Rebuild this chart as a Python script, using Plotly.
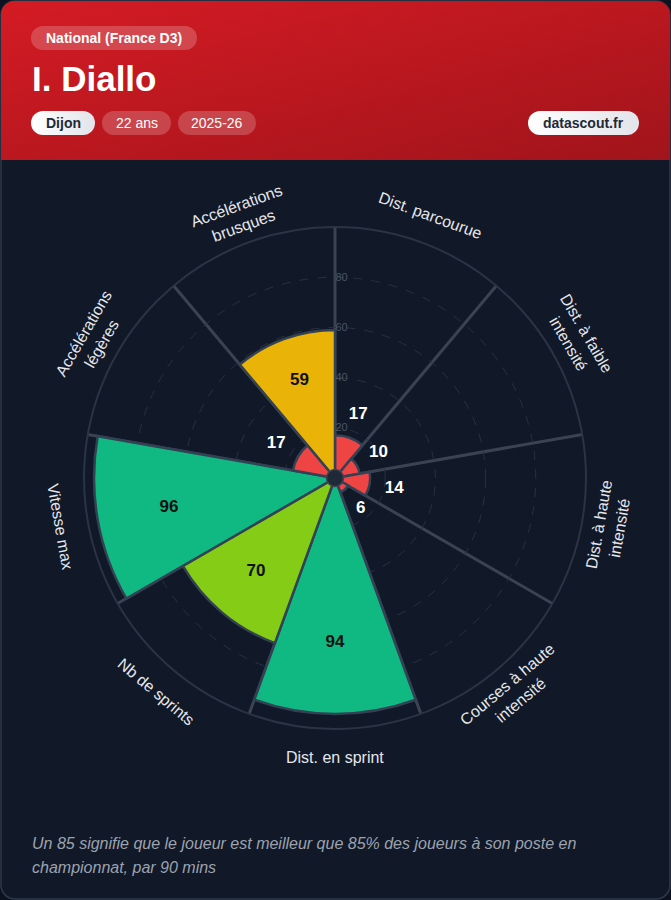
import base64
import math
import plotly.graph_objects as go

# ---------------- data ----------------
categories = [
    "Dist. parcourue",
    "Dist. à faible<br>intensité",
    "Dist. à haute<br>intensité",
    "Courses à haute<br>intensité",
    "Dist. en sprint",
    "Nb de sprints",
    "Vitesse max",
    "Accélérations<br>légères",
    "Accélérations<br>brusques",
]
percentiles = [17, 10, 14, 6, 94, 70, 96, 17, 59]
bar_colors = ["#ef4444", "#ef4444", "#ef4444", "#ef4444", "#10b981",
              "#84cc16", "#10b981", "#ef4444", "#eab308"]
radial_ticks = [20, 40, 60, 80]

league = "National (France D3)"
player = "I. Diallo"
club = "Dijon"
age = "22 ans"
season = "2025-26"
brand = "datascout.fr"
footnote = [
    "Un 85 signifie que le joueur est meilleur que 85% des joueurs à son poste en",
    "championnat, par 90 mins",
]

# ---------------- layout constants ----------------
W, H = 671, 900
CX, CY, R = 335, 478, 251      # polar centre / radius in px
LABEL_R = 279                  # px radius of category labels
FONT = "Liberation Sans, Arial, Helvetica, sans-serif"


def px(x):
    return x / W


def py(y):
    return 1 - y / H


# pills: (text, x0, x1, y0, y1, solid)
pills = [
    (league, 31, 197, 26, 50, False),
    (club, 31, 95, 111, 135, True),
    (age, 102, 171, 111, 135, False),
    (season, 178, 256, 111, 135, False),
    (brand, 528, 639, 111, 135, True),
]

# ---------------- background svg (card + header gradient + pills) ----------------
pill_svg = ""
for _, x0, x1, y0, y1, solid in pills:
    h = y1 - y0
    if solid:
        pill_svg += (f"<rect x='{x0}' y='{y0}' width='{x1-x0}' height='{h}' rx='{h/2}' "
                     f"fill='url(#pw)'/>")
    else:
        pill_svg += (f"<rect x='{x0}' y='{y0}' width='{x1-x0}' height='{h}' rx='{h/2}' "
                     f"fill='#ffffff' fill-opacity='0.2'/>")

svg = f"""<svg xmlns='http://www.w3.org/2000/svg' width='{W}' height='{H}' viewBox='0 0 {W} {H}' preserveAspectRatio='none'>
<defs>
<linearGradient id='g' x1='0' y1='0' x2='1' y2='1'>
<stop offset='0' stop-color='#d51b24'/><stop offset='1' stop-color='#a1141b'/>
</linearGradient>
<linearGradient id='pw' x1='0' y1='0' x2='1' y2='0'>
<stop offset='0' stop-color='#ffffff'/><stop offset='1' stop-color='#e2e4ea'/>
</linearGradient>
<clipPath id='c'><rect x='1' y='1' width='{W-2}' height='{H-2}' rx='14'/></clipPath>
</defs>
<rect width='{W}' height='{H}' fill='#0d1220'/>
<rect x='1' y='1' width='{W-2}' height='{H-2}' rx='14' fill='#111827' stroke='#2f3949' stroke-width='1.5'/>
<rect x='0' y='0' width='{W}' height='160' fill='url(#g)' clip-path='url(#c)'/>
{pill_svg}
</svg>"""
svg_uri = "data:image/svg+xml;base64," + base64.b64encode(svg.encode("utf-8")).decode("ascii")

# ---------------- figure ----------------
n = len(categories)
step = 360 / n
theta = [step * i + step / 2 for i in range(n)]
spokes = [step * i for i in range(n)]

fig = go.Figure()

fig.add_trace(go.Barpolar(
    r=percentiles,
    theta=theta,
    width=[step] * n,
    marker=dict(color=bar_colors, line=dict(color="#334155", width=2.5)),
    hoverinfo="skip",
    showlegend=False,
))

label_r = [v * 0.7 if v >= 40 else v + 10 for v in percentiles]
label_col = ["#111111" if v >= 40 else "#ffffff" for v in percentiles]
fig.add_trace(go.Scatterpolar(
    r=label_r,
    theta=theta,
    mode="text",
    text=[str(v) for v in percentiles],
    textposition="middle center",
    textfont=dict(family=FONT, size=17, color=label_col, weight="bold"),
    hoverinfo="skip",
    showlegend=False,
))

# centre hub
fig.add_trace(go.Scatterpolar(
    r=[0], theta=[0], mode="markers",
    marker=dict(size=17, color="#1f2937", line=dict(color="#3b4554", width=1.5)),
    hoverinfo="skip", showlegend=False,
))

annotations = []
# category labels, rotated tangentially
for cat, a in zip(categories, theta):
    rad = math.radians(a)
    x = CX + LABEL_R * math.sin(rad)
    y = CY - LABEL_R * math.cos(rad)
    if 90 < a < 270:
        ta = a - 180
    elif a >= 270:
        ta = a - 360
    else:
        ta = a
    annotations.append(dict(
        x=px(x), y=py(y), xref="paper", yref="paper",
        text=cat, showarrow=False, textangle=ta,
        xanchor="center", yanchor="middle",
        font=dict(family=FONT, size=16, color="#e5e7eb"),
    ))

# header texts
for text, x0, x1, y0, y1, solid in pills:
    annotations.append(dict(
        x=px((x0 + x1) / 2), y=py((y0 + y1) / 2), xref="paper", yref="paper",
        text=text, showarrow=False, xanchor="center", yanchor="middle",
        font=dict(family=FONT, size=14,
                  color="#1f2937" if solid else "#ffffff",
                  weight="bold" if (solid or text == league) else "normal"),
    ))

annotations.append(dict(
    x=px(30), y=py(79), xref="paper", yref="paper", text=player,
    showarrow=False, xanchor="left", yanchor="middle",
    font=dict(family=FONT, size=35, color="#ffffff", weight="bold"),
))

for i, line in enumerate(footnote):
    annotations.append(dict(
        x=px(30), y=py(843 + 24 * i), xref="paper", yref="paper", text=line,
        showarrow=False, xanchor="left", yanchor="middle",
        font=dict(family=FONT, size=16, color="#9ca3af", style="italic"),
    ))

fig.update_layout(
    width=W, height=H,
    margin=dict(l=0, r=0, t=0, b=0),
    paper_bgcolor="#111827",
    plot_bgcolor="rgba(0,0,0,0)",
    showlegend=False,
    images=[dict(source=svg_uri, xref="paper", yref="paper", x=0, y=1,
                 sizex=1, sizey=1, xanchor="left", yanchor="top",
                 sizing="stretch", layer="below")],
    polar=dict(
        domain=dict(x=[px(CX - R), px(CX + R)], y=[py(CY + R), py(CY - R)]),
        bgcolor="rgba(0,0,0,0)",
        radialaxis=dict(
            range=[0, 100], tickvals=radial_ticks, ticks="",
            showline=False, angle=90, side="clockwise", tickangle=90,
            gridcolor="#283142", griddash="dash", gridwidth=1,
            tickfont=dict(family=FONT, size=11, color="#4b5563"),
        ),
        angularaxis=dict(
            type="linear", direction="clockwise", rotation=90,
            tickvals=spokes, showticklabels=False, ticks="",
            gridcolor="#3a4352", gridwidth=2.5,
            showline=True, linecolor="#2b3444", linewidth=2,
        ),
    ),
    annotations=annotations,
    font=dict(family=FONT),
)

fig.write_html(
    "out.html",
    config={"displayModeBar": False},
    post_script="document.body.style.margin='0';document.body.style.overflow='hidden';",
)
